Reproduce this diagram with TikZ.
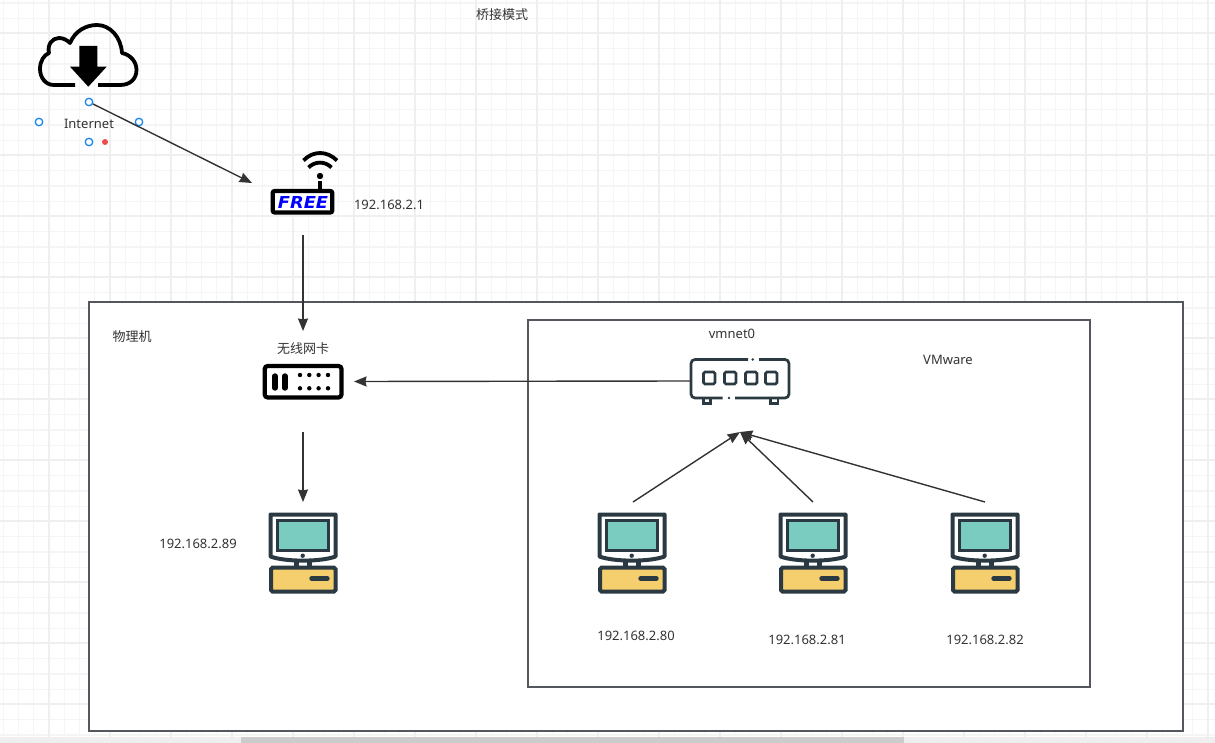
\documentclass[tikz,border=0pt]{standalone}
\usepackage{fontspec}
\setmainfont{Noto Sans}
\newfontfamily\cjk{Noto Sans CJK SC}
\newfontfamily\badge{DejaVu Sans}
\usetikzlibrary{arrows.meta}
\definecolor{gridminor}{HTML}{F5F5F5}
\definecolor{gridmajor}{HTML}{EFEFEF}
\definecolor{framecol}{HTML}{54585E}
\definecolor{inkcol}{HTML}{333333}
\definecolor{pcdark}{HTML}{2B3A42}
\definecolor{pcscreen}{HTML}{7ACCC0}
\definecolor{pcbase}{HTML}{F5CF6E}
\definecolor{portblue}{HTML}{1A86EE}
\definecolor{portred}{HTML}{EE4D4D}
\tikzset{
  slot/.style={inner sep=0pt,outer sep=0pt,draw=none},
  label text/.style={inner sep=0pt,outer sep=0pt,text=inkcol,font=\fontsize{13}{15}\selectfont},
  cjk text/.style={label text,font=\fontsize{13}{15}\selectfont\cjk},
  frame/.style={draw=framecol,line width=1.7pt,fill=white},
  flow/.style={draw=inkcol,line width=1.4pt,-{Stealth[length=12.5pt,width=10pt,inset=1pt]}},
  port/.style={circle,draw=portblue,line width=1.3pt,fill=white,minimum size=7.5pt,inner sep=0pt},
  pics/computer/.style={code={
    % neck
    \fill[pcdark] (33,54) rectangle (37.5,63);
    \fill[pcdark] (46,54) rectangle (50.5,63);
    % monitor housing
    \draw[pcdark,line width=4pt,fill=white,line join=round]
      (9.5,9.5) -- (74.5,9.5) -- (74.5,51.5) .. controls (60,57) and (24,57) .. (9.5,51.5) -- cycle;
    % screen
    \draw[pcdark,line width=3pt,fill=pcscreen] (16,15.5) rectangle (67.5,45.7);
    \fill[pcdark] (41.7,50.7) circle (2.2pt);
    % base unit
    \draw[pcdark,line width=4pt,fill=pcbase,rounded corners=1.5pt] (10,62.7) rectangle (74.5,86.5);
    \draw[pcdark,line width=4.4pt,line cap=round] (50.5,73.5) -- (66.5,73.5);
  }}
}
\begin{document}
\begin{tikzpicture}[x=1pt,y=-1pt]
\useasboundingbox (0,0) rectangle (1215,743);
\fill[white] (0,0) rectangle (1215,743);

% canvas grid
\begin{scope}
  \clip (0,0) rectangle (1215,737);
  \foreach \i in {0,...,80} {
    \pgfmathsetmacro\gx{3.25+15.25*\i}
    \draw[gridminor,line width=1.2pt] (\gx,0) -- (\gx,737);
  }
  \foreach \i in {0,...,48} {
    \pgfmathsetmacro\gy{3+15.25*\i}
    \draw[gridminor,line width=1.2pt] (0,\gy) -- (1215,\gy);
  }
  \foreach \i in {0,...,20} {
    \pgfmathsetmacro\gx{49+61*(\i-1)}
    \draw[gridmajor,line width=1.7pt] (\gx,0) -- (\gx,737);
  }
  \foreach \i in {0,...,12} {
    \pgfmathsetmacro\gy{33+61*\i}
    \draw[gridmajor,line width=1.7pt] (0,\gy) -- (1215,\gy);
  }
\end{scope}

% scroll bar
\fill[gridmajor] (0,737) rectangle (1215,743);
\fill[black!20] (241,737) rectangle (904,743);

% physical machine and VMware frames
\path[frame] (89,302) rectangle (1183,731);
\path[frame] (528,320) rectangle (1090,687);

% cloud icon
\node[slot,minimum width=100pt,minimum height=70pt] (cloud) at (88,60) {};
\draw[black,line width=3.8pt,line cap=butt,line join=round]
  (75,85) -- (54,85)
  .. controls (45,85) and (40,77) .. (40,69)
  .. controls (40,61) and (44,55) .. (49,53)
  .. controls (47,45) and (52,38) .. (59,38)
  .. controls (63,38) and (67,40) .. (70,43)
  .. controls (75,31) and (86,25) .. (97,25)
  .. controls (110,25) and (121,37) .. (122,53)
  .. controls (131,55) and (136.5,62) .. (136.5,70)
  .. controls (136.5,79) and (130,85) .. (120,85)
  -- (98,85);
\fill[black] (79.3,46) -- (97.3,46) -- (97.3,66.7) -- (106.7,66.7)
  -- (88.3,86.7) -- (70,66.7) -- (79.3,66.7) -- cycle;

% router icon
\node[slot,minimum width=102pt,minimum height=104pt] (router) at (303,183) {};
\draw[black,line width=3.8pt] (303.5,160.5) .. controls (313,150.5) and (327,150.5) .. (337,160.5);
\draw[black,line width=3.8pt] (308.5,167.5) .. controls (315,161) and (325,161) .. (331.5,167.5);
\fill[black] (320,176) circle (3.2pt);
\draw[black,line width=4.8pt] (320,181) -- (320,190);
\draw[black,line width=4.2pt,fill=white,rounded corners=2pt] (272.7,191) rectangle (332.3,212.5);
\node[inner sep=0pt,text=blue,xscale=1.08,font=\fontsize{16.5}{16}\selectfont\badge\bfseries\itshape] (freebadge) at (303,202.7) {FREE};

% wireless adapter icon
\node[slot,minimum width=102pt,minimum height=101pt] (card) at (303,381.5) {};
\draw[black,line width=4.2pt,fill=white,rounded corners=3pt] (264.7,366) rectangle (341.5,397.5);
\foreach \bx in {275,285}
  \draw[black,line width=5.4pt,line cap=round] (\bx,376) -- (\bx,388);
\foreach \dx in {300,309.3,318.6,328}
  \foreach \dy in {375,388.3}
    \fill[black] (\dx,\dy) circle (2.2pt);

% vmnet0 switch icon
\node[slot,minimum width=100pt,minimum height=102pt] (switch) at (740,381) {};
\begin{scope}[pcdark,line width=2.7pt]
  \draw[rounded corners=4pt] (748,359.5) -- (691,359.5) -- (691,398) -- (722.5,398);
  \draw[rounded corners=4pt] (735,398) -- (789,398) -- (789,359.5) -- (759,359.5);
  \fill (752.7,359.5) circle (1.4pt);
  \fill (729,398) circle (1.4pt);
  \foreach \px in {703.5,724.5,745.5,765.5}
    \draw[rounded corners=1.5pt] (\px,372) rectangle +(11.5,12);
  \draw (703.5,398) -- (703.5,403.5) -- (710.5,403.5) -- (710.5,398);
  \draw (770.5,398) -- (770.5,403.5) -- (778,403.5) -- (778,398);
\end{scope}

% computers
\node[slot,minimum width=70pt,minimum height=102pt] (host) at (303,553) {};
\node[slot,minimum width=70pt,minimum height=102pt] (vma) at (633,553) {};
\node[slot,minimum width=70pt,minimum height=102pt] (vmb) at (813,553) {};
\node[slot,minimum width=70pt,minimum height=102pt] (vmc) at (985,553) {};
\pic at (261,505) {computer};
\pic at (590,505) {computer};
\pic at (771,505) {computer};
\pic at (943,505) {computer};

% selection handles round the Internet label
\node[port] (ptop) at (89,102) {};
\node[port] at (39,122) {};
\node[port] at (139,122) {};
\node[port] at (89,142) {};
\fill[portred] (105,142) circle (3pt);

% connectors
\draw[flow] (ptop) -- (router.west);
\draw[flow] (router.south) -- (card.north);
\draw[flow] (card.south) -- (host.north);
\draw[flow] (switch.west) -- (card.east);
\draw[flow] (vma.north) -- (switch.south);
\draw[flow] (vmb.north) -- (switch.south);
\draw[flow] (vmc.north) -- (switch.south);

% labels
\node[cjk text] (title) at (502,14.5) {桥接模式};
\node[label text] (internet) at (89,123.7) {Internet};
\node[label text] (gateway) at (389,205) {192.168.2.1};
\node[cjk text] (physical) at (132,336.5) {物理机};
\node[cjk text] (adapter) at (303,348.5) {无线网卡};
\node[label text] (vmnet) at (732,333.7) {vmnet0};
\node[label text] (vmware) at (948,359.7) {VMware};
\node[label text] (iphost) at (198,543.5) {192.168.2.89};
\node[label text] (ipa) at (636,635.5) {192.168.2.80};
\node[label text] (ipb) at (807,639.5) {192.168.2.81};
\node[label text] (ipc) at (985,639.5) {192.168.2.82};
\end{tikzpicture}
\end{document}
